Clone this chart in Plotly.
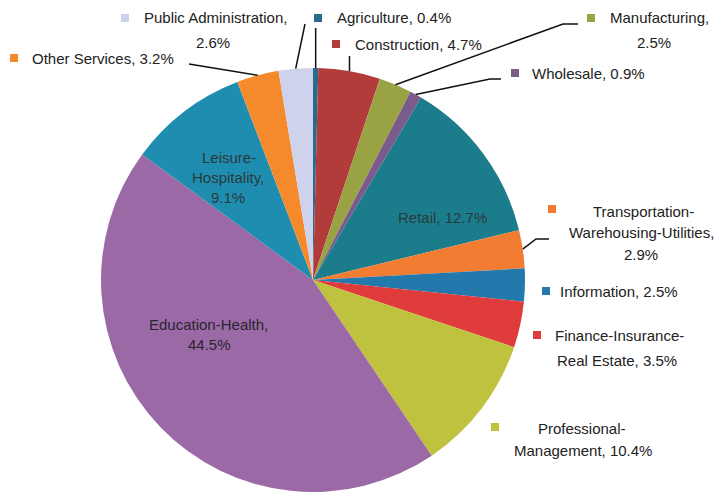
import math
import plotly.graph_objects as go

# Employment share by sector (percent), clockwise from 12 o'clock
sectors = [
    "Agriculture", "Construction", "Manufacturing", "Wholesale", "Retail",
    "Transportation-Warehousing-Utilities", "Information",
    "Finance-Insurance-Real Estate", "Professional-Management",
    "Education-Health", "Leisure-Hospitality", "Other Services",
    "Public Administration",
]
shares = [0.4, 4.7, 2.5, 0.9, 12.7, 2.9, 2.5, 3.5, 10.4, 44.5, 9.1, 3.2, 2.6]
colors = [
    "#2b6a8c", "#b23c3a", "#9aa343", "#7b5b8c", "#1b7d8c", "#f27c31",
    "#2378ac", "#e03b3b", "#bec23f", "#9b6aa6", "#1f8db0", "#f58a2c",
    "#cfd2ec",
]

W, H = 715, 496
CX, CY, R = 313, 280, 212
FONT = "Liberation Sans, Arial, sans-serif"
TXT = "#222222"


def px(x):
    return x / W


def py(y):
    return 1 - y / H


def pct(i):
    return f"{shares[i]}%"


fig = go.Figure(go.Pie(
    labels=sectors,
    values=shares,
    sort=False,
    direction="clockwise",
    rotation=0,
    marker=dict(colors=colors, line=dict(width=0)),
    textinfo="none",
    hoverinfo="label+percent",
    showlegend=False,
    domain=dict(x=[px(CX - R), px(CX + R)], y=[py(CY + R), py(CY - R)]),
))

total = sum(shares)


def edge_point(i):
    before = sum(shares[:i])
    theta = (before + shares[i] / 2) / total * 2 * math.pi
    return CX + R * math.sin(theta), CY - R * math.cos(theta)


annotations = []
shapes = []


def text(s, x, y, anchor="center", size=15, color=TXT):
    annotations.append(dict(
        text=s, x=px(x), y=py(y), xref="paper", yref="paper",
        xanchor=anchor, yanchor="middle", showarrow=False,
        font=dict(family=FONT, size=size, color=color),
    ))


def marker(i, x, y, s=8):
    shapes.append(dict(
        type="rect", xref="paper", yref="paper",
        x0=px(x - s / 2), x1=px(x + s / 2), y0=py(y + s / 2), y1=py(y - s / 2),
        fillcolor=colors[i], line=dict(width=0),
    ))


def leader(i, pts):
    x0, y0 = edge_point(i)
    coords = [(x0, y0)] + pts
    path = "M " + " L ".join(f"{px(x)},{py(y)}" for x, y in coords)
    shapes.append(dict(
        type="path", xref="paper", yref="paper", path=path,
        line=dict(color="#111111", width=1.5),
    ))


# Labels drawn inside the large slices
text(f"{sectors[4]}, {pct(4)}", 443, 217, color="#2a3a3c")
text("Leisure-", 229, 157, color="#2a3a3c")
text("Hospitality,", 228, 177, color="#2a3a3c")
text(pct(10), 228, 197, color="#2a3a3c")
text(f"{sectors[9]},", 208, 324, color="#2a2530")
text(pct(9), 209, 344, color="#2a2530")

# Outside labels with colour keys
marker(12, 125, 18)
text(f"{sectors[12]},", 142, 18, anchor="left")
text(pct(12), 213, 42)
leader(12, [(305, 24)])

marker(0, 318, 18)
text(f"{sectors[0]}, {pct(0)}", 335, 18, anchor="left")
ax, _ = edge_point(0)
leader(0, [(ax, 28)])

marker(1, 336, 44)
text(f"{sectors[1]}, {pct(1)}", 353, 44, anchor="left")
cx1, _ = edge_point(1)
leader(1, [(cx1, 56)])

marker(2, 591, 18)
text(f"{sectors[2]},", 608, 18, anchor="left")
text(pct(2), 654, 42)
leader(2, [(563, 24), (578, 24)])

marker(3, 515, 73)
text(f"{sectors[3]}, {pct(3)}", 530, 73, anchor="left")
leader(3, [(490, 79), (501, 79)])

marker(11, 14, 58)
text(f"{sectors[11]}, {pct(11)}", 30, 58, anchor="left")
leader(11, [(189, 64)])

marker(5, 552, 209)
text("Transportation-", 643, 211)
text("Warehousing-Utilities,", 641, 232)
text(pct(5), 641, 254)
leader(5, [(536, 239), (549, 239)])

marker(6, 546, 291)
text(f"{sectors[6]}, {pct(6)}", 558, 291, anchor="left")

marker(7, 537, 335)
text("Finance-Insurance-", 553, 335, anchor="left")
text(f"Real Estate, {pct(7)}", 617, 360)

marker(8, 495, 427)
text("Professional-", 582, 428)
text(f"Management, {pct(8)}", 583, 450)

fig.update_layout(
    width=W, height=H,
    margin=dict(l=0, r=0, t=0, b=0),
    paper_bgcolor="white",
    plot_bgcolor="white",
    annotations=annotations,
    shapes=shapes,
)

fig.write_html("out.html")
